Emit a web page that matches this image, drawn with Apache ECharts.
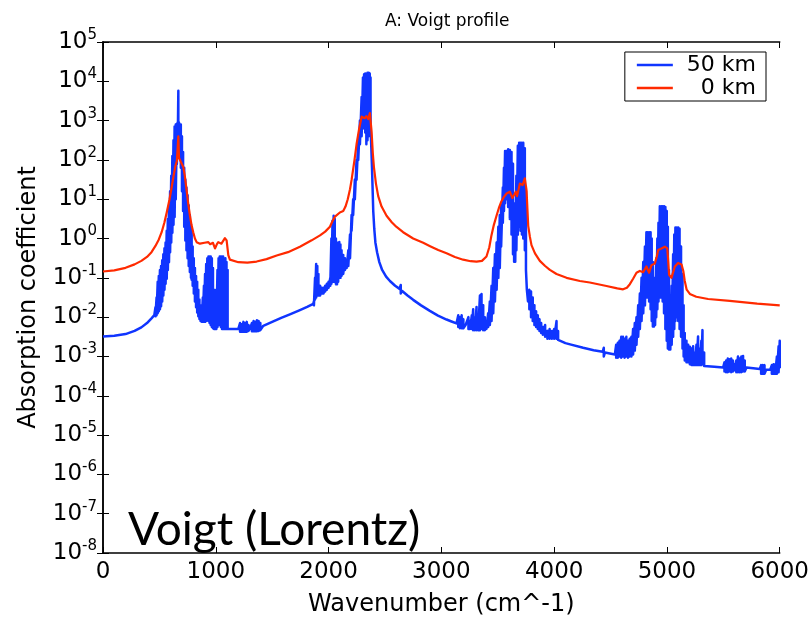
<!DOCTYPE html>
<html>
<head>
<meta charset="UTF-8">
<title>A: Voigt profile</title>
<script src="https://cdn.jsdelivr.net/npm/echarts@6/dist/echarts.min.js"></script>
<style>
  html, body { margin: 0; padding: 0; background: #fff; }
  #main { width: 812px; height: 622px; }
</style>
</head>
<body>
<div id="main"></div>
<script>
  // plot ranges
  const xMin = 0, xMax = 6000, xStep = 1000;
  const yMin = 1e-8, yMax = 1e5;
  const seriesNames = ['50 km', '0 km'];
  const colors = ['#1035ff', '#ff2a00'];

  // 50 km: [wavenumber, log10 of upper value, log10 of lower value]
  // a third entry means the line is a dense band of lines between the two
  const blue50km = [
    [0,-2.49],[100,-2.475],[200,-2.43],[280,-2.35],[340,-2.26],[390,-2.15],[430,-2.03],[455,-1.95],
    [465,-1.75,-1.98],[475,-1.5,-1.95],[485,-1.1,-1.9],[495,-0.95,-1.85],[505,-0.8,-1.8],[515,-0.7,-1.72],
    [525,-0.55,-1.6],[535,-0.4,-1.45],[545,-0.25,-1.3],[555,-0.1,-1.15],[565,0.2,-1.02],[575,0.5,-0.8],
    [585,0.8,-0.6],[595,1.2,-0.35],[605,1.6,-0.1],[615,2.1,0.15],[625,2.5,0.35],[635,2.85,0.55],
    [645,2.9,1.0],[655,2.92,1.9],[662,2.95,2.3],[668,3.76,2.5],[674,2.95,2.35],[682,2.9,2.1],[690,2.9,1.8],
    [700,2.6,1.2],[710,2.2,0.7],[720,1.8,0.3],[730,1.5,-0.05],[740,1.3,-0.3],[750,1.1,-0.5],[760,0.85,-0.7],
    [770,0.6,-0.85],[780,0.3,-1.0],[786,0.2,-1.05],[795,-0.2,-1.2],[805,-0.5,-1.4],[815,-0.75,-1.6],
    [825,-0.95,-1.75],[835,-1.1,-1.88],[845,-1.3,-1.98],[855,-1.55,-2.05],[865,-1.7,-2.1],[875,-1.75,-2.12],
    [885,-1.5,-2.12],[895,-1.2,-2.12],[905,-0.9,-2.12],[915,-0.65,-2.1],[925,-0.5,-2.05],[935,-0.46,-2.1],
    [945,-0.46,-2.15],[955,-0.46,-2.2],[965,-0.5,-2.25],[975,-0.75,-2.28],[985,-1.3,-2.3],[995,-1.6,-2.3],
    [1005,-1.3,-2.3],[1015,-0.8,-2.25],[1025,-0.5,-2.2],[1035,-0.46,-2.2],[1045,-0.46,-2.25],[1055,-0.46,-2.3],
    [1065,-0.46,-2.3],[1075,-0.5,-2.3],[1085,-0.5,-2.3],[1095,-0.6,-2.3],[1105,-0.8,-2.3],
    [1115,-2.3],[1200,-2.3],
    [1215,-2.15,-2.37],[1230,-2.18,-2.37],[1245,-2.12,-2.37],[1260,-2.15,-2.37],[1275,-2.12,-2.37],[1290,-2.2,-2.35],
    [1305,-2.28],
    [1320,-2.15,-2.36],[1335,-2.1,-2.36],[1350,-2.12,-2.36],[1365,-2.08,-2.36],[1380,-2.1,-2.35],[1395,-2.15,-2.33],
    [1421,-2.22],[1500,-2.12],[1580,-2.02],[1657,-1.93],[1746,-1.82],[1810,-1.74],[1864,-1.66],
    [1870,-1.6,-1.7],[1880,-1.0,-1.55],[1890,-0.65,-1.5],[1900,-0.7,-1.45],[1910,-0.9,-1.45],[1925,-1.2,-1.45],
    [1940,-1.25,-1.4],[1955,-1.25,-1.4],[1970,-1.2,-1.35],[1985,-1.15,-1.3],[2000,-1.1,-1.25],[2015,-1.0,-1.2],
    [2025,0.0,-1.15],[2035,0.45,-1.1],[2045,0.58,-1.1],[2055,0.5,-1.1],[2065,0.0,-1.16],[2075,-0.1,-1.16],
    [2085,-0.2,-1.1],[2095,-0.09,-1.0],[2105,-0.15,-1.0],[2115,-0.3,-0.95],[2130,-0.42,-0.9],[2145,-0.5,-0.8],
    [2160,-0.6,-0.75],[2175,-0.3,-0.7],[2190,0.1,-0.5],[2204,0.6,0.2],[2218,1.0,0.6],[2233,1.5,1.0],
    [2248,2.0,1.5],[2263,2.5,2.0],[2278,3.0,2.4],[2293,3.6,2.6],[2305,4.1,2.8],[2315,4.18,2.9],[2325,4.2,2.7],
    [2335,4.1,2.4],[2345,4.22,2.5],[2355,4.22,2.6],[2365,4.2,2.8],[2372,4.1,2.9],
    [2385,1.8],[2396,0.7],[2405,0.25],[2415,-0.1],[2430,-0.35],[2450,-0.6],[2475,-0.8],[2510,-0.97],
    [2544,-1.08],[2590,-1.2],[2630,-1.28],[2640,-1.18,-1.4],[2650,-1.33],[2700,-1.45],[2750,-1.56],
    [2820,-1.7],[2898,-1.84],[2970,-1.96],[3046,-2.06],[3090,-2.11],[3134,-2.16],
    [3150,-1.95,-2.25],[3165,-2.0,-2.28],[3180,-1.95,-2.28],[3195,-2.05,-2.28],
    [3215,-2.2],
    [3240,-2.0,-2.3],[3255,-2.1,-2.3],[3270,-1.95,-2.3],[3282,-1.8,-2.33],[3297,-2.0,-2.33],[3312,-1.74,-2.33],
    [3327,-2.1,-2.33],[3342,-1.45,-2.33],[3356,-1.41,-2.3],[3371,-1.7,-2.33],[3386,-2.0,-2.33],[3400,-2.1,-2.3],
    [3415,-1.9,-2.25],[3430,-1.6,-2.2],[3445,-1.2,-2.1],[3460,-0.75,-1.9],[3475,-0.4,-1.6],[3490,-0.1,-1.3],
    [3505,0.3,-1.0],[3518,0.6,-0.75],[3530,0.85,-0.2],[3545,1.3,0.4],[3555,1.8,0.7],[3565,2.23,0.9],
    [3578,2.23,1.0],[3592,2.27,0.8],[3607,2.25,0.5],[3622,2.2,0.1],[3635,1.9,-0.4],[3645,0.9,-0.59],
    [3655,0.6,-0.59],[3665,1.6,-0.3],[3678,2.36,0.1],[3690,2.44,0.3],[3702,2.44,0.2],[3714,2.44,0.1],
    [3726,2.44,0.0],[3740,2.3,-0.3],[3750,1.2,-0.8],[3758,-0.8,-1.3],[3768,-1.25,-1.6],[3780,-1.3,-1.8],
    [3795,-1.35,-2.0],[3810,-1.5,-2.1],[3825,-1.7,-2.2],[3840,-1.85,-2.25],[3855,-1.95,-2.3],[3870,-2.05,-2.35],
    [3885,-2.15,-2.4],[3900,-2.25,-2.45],[3920,-2.2,-2.5],[3940,-2.35,-2.55],[3960,-2.3,-2.55],[3980,-2.35,-2.55],
    [4000,-2.3,-2.55],[4021,-2.1,-2.55],[4035,-2.35,-2.58],
    [4050,-2.61],[4100,-2.66],[4150,-2.7],[4257,-2.78],[4350,-2.84],[4430,-2.88],[4440,-2.78,-3.0],[4450,-2.9],
    [4538,-2.95],
    [4550,-2.7,-3.03],[4565,-2.65,-3.03],[4580,-2.6,-3.0],[4595,-2.5,-3.03],[4610,-2.5,-3.0],[4625,-2.55,-3.03],
    [4640,-2.5,-3.0],[4655,-2.6,-3.03],[4670,-2.55,-3.0],[4685,-2.5,-3.0],[4700,-2.3,-2.95],[4715,-2.15,-2.85],
    [4730,-2.0,-2.7],[4745,-1.7,-2.5],[4760,-1.4,-2.3],[4775,-1.0,-2.1],[4790,-0.6,-1.9],[4805,-0.2,-1.7],
    [4818,0.16,-1.5],[4830,0.16,-1.5],[4842,0.16,-1.6],[4855,0.16,-1.8],[4865,0.0,-2.1],[4875,-0.6,-2.24],
    [4885,-1.2,-2.24],[4895,-1.0,-2.2],[4905,-0.5,-2.0],[4915,0.0,-1.8],[4925,0.4,-1.6],[4937,0.82,-1.5],
    [4950,0.82,-1.5],[4962,0.82,-1.6],[4974,0.82,-1.9],[4986,0.8,-2.3],[4998,0.7,-2.6],[5008,0.3,-2.8],
    [5018,-0.8,-2.82],[5030,-1.6,-2.82],[5042,-1.2,-2.7],[5055,-0.4,-2.5],[5065,0.1,-2.3],[5075,0.28,-2.1],
    [5088,0.28,-2.0],[5100,0.28,-2.1],[5112,0.25,-2.3],[5125,-0.2,-2.5],[5138,-0.9,-2.8],[5148,-1.7,-3.0],
    [5158,-2.4,-3.1],[5173,-2.6,-3.15],[5188,-2.7,-3.15],[5203,-2.75,-3.2],[5218,-2.8,-3.22],[5232,-2.74,-3.22],
    [5247,-2.9,-3.22],[5262,-2.7,-3.22],[5276,-2.49,-3.22],[5291,-2.8,-3.22],[5305,-2.6,-3.22],[5315,-2.33,-3.2],
    [5330,-2.9,-3.24],
    [5345,-3.24],[5420,-3.26],[5498,-3.28],
    [5510,-3.15,-3.38],[5525,-3.1,-3.4],[5540,-3.05,-3.4],[5555,-3.07,-3.38],[5570,-3.05,-3.4],[5585,-3.1,-3.38],
    [5600,-3.2,-3.35],[5615,-3.1,-3.4],[5630,-3.0,-3.4],[5645,-3.05,-3.4],[5660,-3.0,-3.4],[5675,-2.99,-3.38],
    [5690,-3.1,-3.38],
    [5705,-3.28],[5765,-3.3],[5823,-3.32],
    [5835,-3.22,-3.44],[5850,-3.22,-3.44],[5865,-3.22,-3.44],
    [5880,-3.34],[5915,-3.34],
    [5930,-3.22,-3.44],[5945,-3.2,-3.44],[5960,-3.2,-3.44],[5975,-3.0,-3.44],[5990,-2.74,-3.4],[6000,-2.6,-3.3]
  ];

  // 0 km: [wavenumber, absorption coefficient]
  const red0km = [
    [0,0.145],[100,0.155],[200,0.18],[280,0.22],[340,0.27],[390,0.34],[430,0.45],[465,0.65],[495,0.95],
    [520,1.45],[545,2.6],[565,4.6],[590,10],[610,21],[625,38],[640,66],[655,95],[662,105],[668,400],
    [674,112],[690,100],[712,66],[725,40],[740,18],[755,8],[771,3.8],[785,2.2],[800,1.45],[815,1.0],
    [830,0.81],[860,0.74],[900,0.78],[934,0.81],[950,0.72],[963,0.68],[975,0.78],[993,0.56],[1010,0.72],
    [1022,0.81],[1050,0.74],[1066,0.8],[1081,1.02],[1096,0.9],[1111,0.38],[1125,0.29],[1140,0.26],[1200,0.25],
    [1280,0.245],[1362,0.26],[1450,0.3],[1540,0.37],[1640,0.45],[1746,0.62],[1850,0.9],[1924,1.2],[1970,1.5],
    [2012,2.0],[2035,2.8],[2057,3.6],[2100,4.6],[2130,5.0],[2150,6.5],[2170,10],[2190,18],[2204,31],[2230,100],
    [2248,250],[2270,600],[2293,1260],[2310,1300],[2322,1150],[2335,1300],[2351,1100],[2366,1550],[2381,540],
    [2392,150],[2402,66],[2420,25],[2440,12],[2470,6.5],[2514,3.8],[2560,2.6],[2600,2.0],[2661,1.45],
    [2750,1.0],[2839,0.78],[2900,0.64],[2972,0.51],[3046,0.42],[3120,0.34],[3193,0.29],[3260,0.265],
    [3312,0.26],[3360,0.27],[3400,0.35],[3425,0.6],[3444,1.2],[3465,2.2],[3489,3.8],[3510,6],[3533,8.9],
    [3555,11.5],[3578,14],[3607,15.5],[3630,10.7],[3660,15.5],[3671,12],[3696,25],[3720,23],[3740,34],
    [3755,17],[3770,2.1],[3785,1.1],[3799,0.68],[3830,0.42],[3873,0.27],[3920,0.2],[3962,0.16],[4021,0.125],
    [4110,0.1],[4228,0.083],[4316,0.076],[4464,0.062],[4560,0.054],[4611,0.051],[4645,0.056],[4671,0.069],
    [4700,0.095],[4730,0.135],[4759,0.15],[4789,0.14],[4818,0.195],[4842,0.135],[4863,0.21],[4892,0.23],
    [4910,0.35],[4922,0.51],[4951,0.56],[4981,0.62],[5003,0.56],[5012,0.25],[5019,0.12],[5040,0.1],
    [5055,0.14],[5070,0.195],[5099,0.24],[5129,0.22],[5145,0.15],[5158,0.083],[5175,0.05],[5203,0.039],
    [5260,0.033],[5365,0.029],[5557,0.026],[5800,0.022],[6000,0.02]
  ];

  // zigzag between upper and lower values to draw the dense bands
  const blueData = [];
  blue50km.forEach(r => {
    blueData.push([r[0], Math.pow(10, r[1])]);
    if (r.length > 2) blueData.push([r[0], Math.pow(10, r[2])]);
  });

  const font = 'DejaVu Sans';
  const expLabel = v => {
    const e = Math.round(Math.log10(v));
    return '{b|10}{s|' + e + '}';
  };
  const richLabel = {
    b: { fontSize: 23, fontFamily: font, color: '#000' },
    s: { fontSize: 15, fontFamily: font, color: '#000', padding: [0, 0, 14, 0] }
  };
  const tickStyle = { inside: true, length: 6, lineStyle: { color: '#000', width: 1 } };
  const lineAxis = { lineStyle: { color: '#000', width: 1.5 } };

  const chart = echarts.init(document.getElementById('main'));
  chart.setOption({
    animation: false,
    backgroundColor: '#fff',
    title: {
      text: 'A: Voigt profile', left: 380, top: 8,
      textStyle: { fontFamily: font, fontSize: 17, fontWeight: 'normal', color: '#000' }
    },
    legend: {
      right: 46, top: 52, orient: 'vertical',
      data: seriesNames,
      icon: 'rect', itemWidth: 36, itemHeight: 2.5, itemGap: 1,
      padding: [2, 10, 2, 12],
      borderColor: '#000', borderWidth: 1, borderRadius: 0,
      formatter: n => n.length < 5 ? '\u2007' + n : n,
      textStyle: { fontFamily: font, fontSize: 22, color: '#000', padding: [0, 0, 0, 9] }
    },
    grid: { left: 103, right: 32, top: 42, bottom: 57 },
    xAxis: [{
      type: 'value', min: xMin, max: xMax, interval: xStep,
      name: 'Wavenumber (cm^-1)', nameLocation: 'middle', nameGap: 40,
      nameTextStyle: { fontFamily: font, fontSize: 24, color: '#000' },
      axisLine: lineAxis, axisTick: tickStyle, splitLine: { show: false },
      axisLabel: { fontFamily: font, fontSize: 23, color: '#000', margin: 8, formatter: v => String(v) }
    }, {
      type: 'value', position: 'top', min: xMin, max: xMax, interval: xStep,
      axisLine: lineAxis, axisTick: tickStyle, splitLine: { show: false },
      axisLabel: { show: false }
    }],
    yAxis: [{
      type: 'log', logBase: 10, min: yMin, max: yMax, interval: 1,
      name: 'Absorption coefficient', nameLocation: 'middle', nameGap: 62,
      nameTextStyle: { fontFamily: font, fontSize: 24, color: '#000' },
      axisLine: lineAxis, axisTick: tickStyle, splitLine: { show: false }, minorTick: { show: false },
      axisLabel: { formatter: expLabel, rich: richLabel, margin: 6 }
    }, {
      type: 'log', logBase: 10, position: 'right', min: yMin, max: yMax, interval: 1,
      axisLine: lineAxis, axisTick: tickStyle, splitLine: { show: false },
      axisLabel: { show: false }
    }],
    graphic: [{
      type: 'text', left: 128, top: 507,
      style: { text: 'Voigt (Lorentz)', font: '46px Lato', fill: '#000' }
    }],
    series: [{
      name: seriesNames[0], type: 'line', data: blueData,
      showSymbol: false, symbol: 'none', color: colors[0],
      lineStyle: { width: 2.5, color: colors[0], join: 'round' }
    }, {
      name: seriesNames[1], type: 'line', data: red0km,
      showSymbol: false, symbol: 'none', color: colors[1],
      lineStyle: { width: 2.2, color: colors[1], join: 'round' }
    }]
  });
</script>
</body>
</html>
